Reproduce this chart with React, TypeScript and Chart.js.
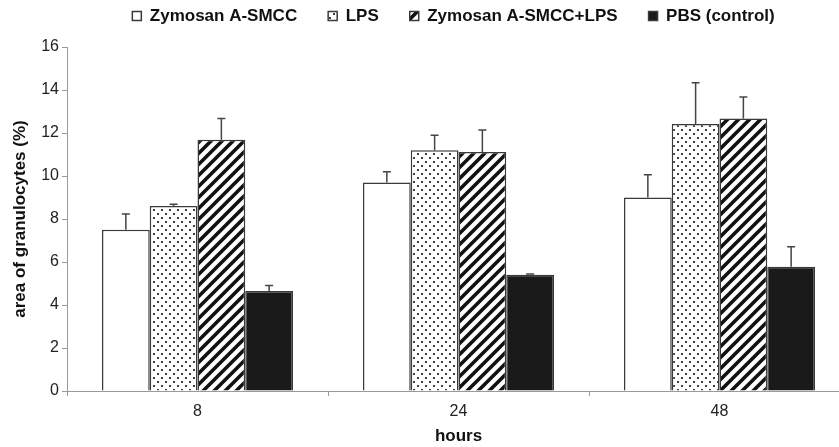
import React, { useEffect, useRef } from 'react';
import { Chart, registerables } from 'chart.js';

Chart.register(...registerables);

const categories = ['8', '24', '48'];
const seriesNames = ['Zymosan A-SMCC', 'LPS', 'Zymosan A-SMCC+LPS', 'PBS (control)'];
const zymosanValues = [7.5, 9.7, 9.0];
const lpsValues = [8.6, 11.2, 12.42];
const comboValues = [11.69, 11.12, 12.67];
const pbsValues = [4.65, 5.41, 5.78];
const zymosanErrors = [0.73, 0.5, 1.06];
const lpsErrors = [0.09, 0.7, 1.92];
const comboErrors = [0.98, 1.02, 1.0];
const pbsErrors = [0.26, 0.03, 0.93];
const yMin = 0;
const yMax = 16;
const yStep = 2;
const xTitle = 'hours';
const yTitle = 'area of granulocytes (%)';

const FONT = "'Liberation Sans', Arial, sans-serif";
const LEGEND_PAD = 31;

function makeDotPattern(ctx: CanvasRenderingContext2D): CanvasPattern | string {
  const c = document.createElement('canvas');
  c.width = 8;
  c.height = 8;
  const g = c.getContext('2d');
  if (!g) return '#ddd';
  g.fillStyle = '#ffffff';
  g.fillRect(0, 0, 8, 8);
  g.fillStyle = '#404040';
  g.fillRect(1, 1, 2, 2);
  g.fillRect(5, 5, 2, 2);
  return ctx.createPattern(c, 'repeat') || '#ddd';
}

function makeHatchPattern(ctx: CanvasRenderingContext2D): CanvasPattern | string {
  const s = 11;
  const c = document.createElement('canvas');
  c.width = s;
  c.height = s;
  const g = c.getContext('2d');
  if (!g) return '#888';
  g.fillStyle = '#ffffff';
  g.fillRect(0, 0, s, s);
  g.strokeStyle = '#111111';
  g.lineWidth = 3.6;
  g.lineCap = 'square';
  g.beginPath();
  g.moveTo(0, s);
  g.lineTo(s, 0);
  g.moveTo(-s / 2, s / 2);
  g.lineTo(s / 2, -s / 2);
  g.moveTo(s / 2, s * 1.5);
  g.lineTo(s * 1.5, s / 2);
  g.stroke();
  return ctx.createPattern(c, 'repeat') || '#888';
}

const errorSets = [zymosanErrors, lpsErrors, comboErrors, pbsErrors];

const errorBarPlugin = {
  id: 'errorBars',
  afterDatasetsDraw(chart: any) {
    const ctx = chart.ctx;
    const yScale = chart.scales.y;
    chart.data.datasets.forEach((ds: any, di: number) => {
      const meta = chart.getDatasetMeta(di);
      const errs = errorSets[di];
      meta.data.forEach((bar: any, i: number) => {
        const v = ds.data[i];
        const e = errs[i];
        const yBase = yScale.getPixelForValue(v);
        const yTop = yScale.getPixelForValue(v + e);
        ctx.save();
        ctx.strokeStyle = '#454545';
        ctx.lineWidth = 1.5;
        ctx.beginPath();
        ctx.moveTo(bar.x, yBase);
        ctx.lineTo(bar.x, yTop);
        ctx.moveTo(bar.x - 4, yTop);
        ctx.lineTo(bar.x + 4, yTop);
        ctx.stroke();
        ctx.restore();
      });
    });
  },
};

const legendPlacer = {
  id: 'legendPlacer',
  afterLayout(chart: any) {
    const lg = chart.legend;
    if (!lg) return;
    const center = 453.5;
    lg.left = center - 430;
    lg.right = center + 430;
    lg.width = 860;
    lg.top = 7.5 - LEGEND_PAD;
    lg.bottom = 47;
    lg.height = lg.bottom - lg.top;
  },
};

export default function App() {
  const canvasRef = useRef<HTMLCanvasElement | null>(null);

  useEffect(() => {
    const canvas = canvasRef.current;
    if (!canvas) return;
    const ctx = canvas.getContext('2d');
    if (!ctx) return;
    const dots = makeDotPattern(ctx);
    const hatch = makeHatchPattern(ctx);
    const fills = ['#ffffff', dots, hatch, '#1a1a1a'];
    const values = [zymosanValues, lpsValues, comboValues, pbsValues];

    const chart = new Chart(ctx, {
      type: 'bar',
      data: {
        labels: categories,
        datasets: seriesNames.map((name, i) => ({
          label: name,
          data: values[i],
          backgroundColor: fills[i] as any,
          borderColor: '#3a3a3a',
          borderWidth: 1.5,
          categoryPercentage: 0.732,
          barPercentage: 1.0,
        })),
      },
      options: {
        animation: false,
        responsive: false,
        maintainAspectRatio: false,
        events: [],
        layout: { padding: { left: 0, right: 10, top: 0, bottom: 0 } },
        plugins: {
          tooltip: { enabled: false },
          legend: {
            position: 'top',
            maxHeight: 47,
            labels: {
              boxWidth: 9,
              boxHeight: 9,
              padding: LEGEND_PAD,
              color: '#111111',
              font: { family: FONT, size: 17, weight: 'bold' },
            },
          },
        },
        scales: {
          x: {
            grid: { display: true, drawOnChartArea: false, tickLength: 5, color: '#9a9a9a' },
            border: { display: true, color: '#9a9a9a', width: 1 },
            ticks: { color: '#222222', padding: 6, font: { family: FONT, size: 16 } },
            title: {
              display: true,
              text: xTitle,
              color: '#111111',
              font: { family: FONT, size: 17, weight: 'bold' },
              padding: { top: 2, bottom: 0 },
            },
            afterFit: (scale: any) => {
              scale.height = 56;
            },
          },
          y: {
            min: yMin,
            max: yMax,
            ticks: { stepSize: yStep, color: '#222222', padding: 3, font: { family: FONT, size: 16 } },
            grid: { display: true, drawOnChartArea: false, tickLength: 5, color: '#9a9a9a' },
            border: { display: true, color: '#9a9a9a', width: 1 },
            title: {
              display: true,
              text: yTitle,
              color: '#111111',
              font: { family: FONT, size: 17, weight: 'bold' },
              padding: { top: 10, bottom: 0 },
            },
            afterFit: (scale: any) => {
              scale.width = 67;
            },
          },
        },
      },
      plugins: [errorBarPlugin, legendPlacer],
    });
    return () => {
      chart.destroy();
    };
  }, []);

  return (
    <div
      style={{
        position: 'absolute',
        left: 0,
        top: 0,
        width: 839,
        height: 447,
        overflow: 'hidden',
        background: '#ffffff',
      }}
    >
      <canvas ref={canvasRef} width={860} height={447} style={{ width: 860, height: 447, display: 'block' }} />
    </div>
  );
}
